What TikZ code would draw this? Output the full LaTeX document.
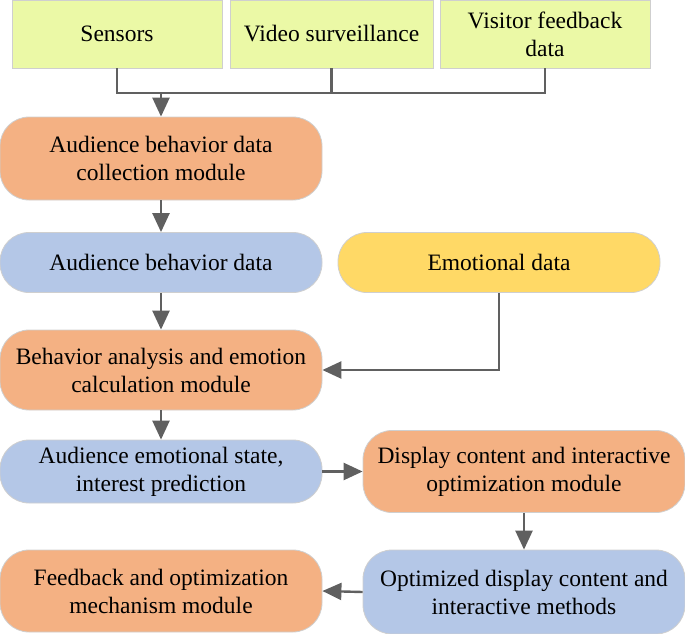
\documentclass[tikz,border=0pt]{standalone}
\usepackage{fontspec}
\setmainfont{Liberation Serif}
\usetikzlibrary{arrows.meta}
\definecolor{grn}{HTML}{EBF9A6}
\definecolor{orng}{HTML}{F4B183}
\definecolor{blu}{HTML}{B4C7E7}
\definecolor{ylw}{HTML}{FFD966}
\definecolor{edge}{HTML}{CFCFCF}
\definecolor{con}{HTML}{606060}
\begin{document}
\begin{tikzpicture}[x=1pt,y=-1pt,
  base/.style={draw=edge, line width=0.8pt, align=center, inner sep=0pt,
    font=\fontsize{23.5}{28}\selectfont},
  src/.style={base, fill=grn, minimum width=210pt, minimum height=68pt},
  rbox/.style={base, rounded corners=29pt, minimum height=83pt, minimum width=322pt},
  sbox/.style={base, rounded corners=29pt, minimum height=60pt, minimum width=322pt},
  link/.style={draw=con, line width=2.4pt},
  arr/.style={link, -{Triangle[length=19pt,width=17pt]}}]
\useasboundingbox (0,0) rectangle (685,634);
% sources
\node[src, minimum width=210pt] (s) at (117,34) {Sensors};
\node[src, minimum width=203pt] (v) at (331.5,34) {Video surveillance};
\node[src, minimum width=210pt] (f) at (545,34) {Visitor feedback\\data};
% main boxes
\node[rbox, fill=orng] (a1) at (161,158.5) {Audience behavior data\\collection module};
\node[sbox, fill=blu] (a2) at (161,262.5) {Audience behavior data};
\node[sbox, fill=ylw] (e) at (499,262.5) {Emotional data};
\node[rbox, fill=orng, minimum height=80pt] (b) at (161,370) {Behavior analysis and emotion\\calculation module};
\node[sbox, fill=blu, minimum height=63pt] (st) at (161,471.5) {Audience emotional state,\\interest prediction};
\node[rbox, fill=orng, minimum width=322pt, minimum height=82pt] (d) at (524,471.5) {Display content and interactive\\optimization module};
\node[rbox, fill=blu, minimum width=322pt, minimum height=84pt] (o) at (524,592) {Optimized display content and\\interactive methods};
\node[rbox, fill=orng, minimum height=82pt] (fb) at (161,591) {Feedback and optimization\\mechanism module};
% connectors
\coordinate (j) at (161,93);
\draw[link] (s.south) -- (s.south |- j) -- (f.south |- j) -- (f.south);
\draw[link] (v.south) -- (v.south |- j);
\draw[arr] (j) -- (a1.north);
\draw[arr] (a1.south) -- (a2.north);
\draw[arr] (a2.south) -- (b.north);
\draw[arr] (e.south) |- (b.east);
\draw[arr] (b.south) -- (st.north);
\draw[arr] (st.east) -- (d.west);
\draw[arr] (d.south) -- (o.north);
\draw[arr] (o.west) -- (fb.east);
\end{tikzpicture}
\end{document}
